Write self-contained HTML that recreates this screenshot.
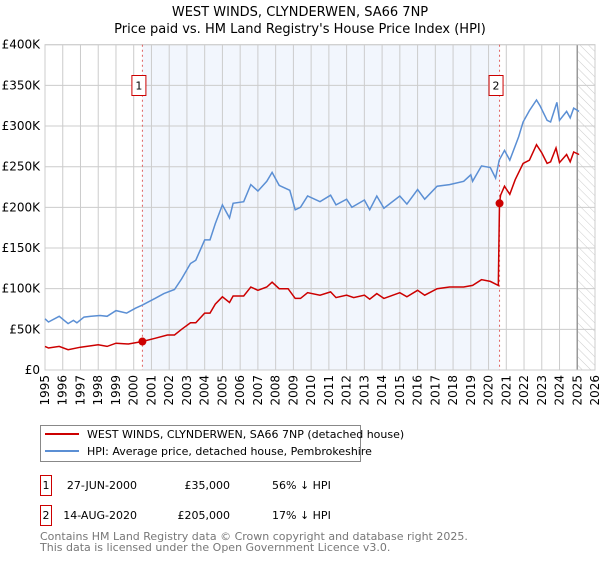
<!DOCTYPE html>
<html><head><meta charset="utf-8"><style>
body{margin:0;background:#fff;font-family:"Liberation Sans","DejaVu Sans",sans-serif}
svg text{font-family:"DejaVu Sans","Liberation Sans",sans-serif}
</style></head><body>
<svg id="chart" width="600" height="560" xmlns="http://www.w3.org/2000/svg">
<defs><pattern id="hatch" width="6" height="6" patternUnits="userSpaceOnUse" patternTransform="rotate(-45)"><line x1="0" y1="0" x2="0" y2="6" stroke="#ccc" stroke-width="1"/></pattern></defs>
<text x="300" y="16" text-anchor="middle" font-size="13">WEST WINDS, CLYNDERWEN, SA66 7NP</text>
<text x="300" y="33" text-anchor="middle" font-size="13">Price paid vs. HM Land Registry's House Price Index (HPI)</text>
<g id="plot"></g>
<g>
<rect x="40.5" y="425.5" width="320" height="36" fill="#fff" stroke="#888"/>
<line x1="45" y1="434" x2="79" y2="434" stroke="#cc0000" stroke-width="2"/>
<text x="87" y="438" font-size="11">WEST WINDS, CLYNDERWEN, SA66 7NP (detached house)</text>
<line x1="45" y1="451" x2="79" y2="451" stroke="#5b8fd4" stroke-width="2"/>
<text x="87" y="455" font-size="11">HPI: Average price, detached house, Pembrokeshire</text>
</g>
<g font-size="11">
<rect x="40.5" y="475.5" width="11" height="20" fill="#fff" stroke="#cc0000"/><text x="46" y="489" text-anchor="middle">1</text>
<text x="137" y="489" text-anchor="end">27-JUN-2000</text><text x="230" y="489" text-anchor="end">£35,000</text><text x="272" y="489">56% ↓ HPI</text>
<rect x="40.5" y="505.5" width="11" height="20" fill="#fff" stroke="#cc0000"/><text x="46" y="519" text-anchor="middle">2</text>
<text x="137" y="519" text-anchor="end">14-AUG-2020</text><text x="230" y="519" text-anchor="end">£205,000</text><text x="272" y="519">17% ↓ HPI</text>
</g>
<text x="40" y="540" font-size="11" fill="#777">Contains HM Land Registry data © Crown copyright and database right 2025.</text>
<text x="40" y="551" font-size="11" fill="#777">This data is licensed under the Open Government Licence v3.0.</text>
</svg>
<script>
const hpiYears=[1995.0,1995.2,1995.8,1996.3,1996.6,1996.8,1997.2,1997.6,1998.1,1998.5,1999.0,1999.6,2000.1,2000.5,2001.2,2001.7,2002.3,2002.7,2003.2,2003.5,2004.0,2004.3,2004.6,2005.0,2005.4,2005.6,2006.2,2006.6,2007.0,2007.5,2007.8,2008.2,2008.8,2009.1,2009.4,2009.8,2010.5,2011.1,2011.4,2012.0,2012.3,2013.0,2013.3,2013.7,2014.1,2015.0,2015.4,2016.0,2016.4,2017.1,2017.8,2018.6,2019.0,2019.1,2019.6,2020.1,2020.4,2020.6,2020.9,2021.2,2021.7,2021.95,2022.3,2022.7,2022.9,2023.3,2023.5,2023.85,2024.0,2024.4,2024.6,2024.8,2025.1];
const hpiValues=[63,59,66,57,61,58,65,66,67,66,73,70,76,80,88,94,99,112,131,135,160,160,180,203,187,205,207,228,220,232,243,227,221,197,200,214,207,215,203,210,200,209,197,214,199,214,204,222,210,226,228,232,240,232,251,249,236,258,270,258,287,305,319,332,325,307,305,329,307,318,310,322,318];
const redYears=[1995.0,1995.2,1995.8,1996.3,1997.0,1998.0,1998.5,1999.0,1999.7,2000.49,2001.2,2001.9,2002.3,2002.7,2003.2,2003.5,2004.0,2004.3,2004.6,2005.0,2005.4,2005.6,2006.2,2006.6,2007.0,2007.5,2007.8,2008.2,2008.7,2009.1,2009.4,2009.8,2010.5,2011.1,2011.4,2012.0,2012.4,2013.0,2013.3,2013.7,2014.1,2015.0,2015.4,2016.0,2016.4,2017.1,2017.8,2018.6,2019.1,2019.6,2020.1,2020.55,2020.62,2020.68,2020.9,2021.2,2021.5,2021.95,2022.3,2022.7,2023.0,2023.3,2023.5,2023.8,2024.0,2024.4,2024.6,2024.8,2025.1];
const redValues=[29,27,29,25,28,31,29,33,32,35,39,43,43,50,58,58,70,70,81,90,83,91,91,102,98,102,108,100,100,88,88,95,92,96,89,92,89,92,87,94,88,95,90,98,92,100,102,102,104,111,109,104,205,215,226,216,234,254,258,277,267,254,256,273,255,265,256,268,265];
const saleYears=[2000.49,2020.62];
const salePrices=[35,205];
const saleLabels=["1","2"];
const yTicks=[0,50,100,150,200,250,300,350,400];
const yTickLabels=["£0","£50K","£100K","£150K","£200K","£250K","£300K","£350K","£400K"];
const xTicks=[1995,1996,1997,1998,1999,2000,2001,2002,2003,2004,2005,2006,2007,2008,2009,2010,2011,2012,2013,2014,2015,2016,2017,2018,2019,2020,2021,2022,2023,2024,2025,2026];

const L=45,R=595,T=44.7,B=370,NS="http://www.w3.org/2000/svg";
const xs=y=>L+(y-1995)/(2026-1995)*(R-L);
const ys=v=>B-v/400*(B-T);
const g=document.getElementById('plot');
function mk(t,a,p){const e=document.createElementNS(NS,t);for(const k in a)e.setAttribute(k,a[k]);(p||g).appendChild(e);return e;}
const shade=mk('rect',{x:xs(saleYears[0]),y:T,width:xs(saleYears[1])-xs(saleYears[0]),height:B-T,fill:'#f2f6fd'});


const hatch=mk('rect',{x:xs(2025),y:T,width:R-xs(2025),height:B-T,fill:'url(#hatch)'});


yTicks.forEach((v,i)=>{
  const ln=mk('line',{x1:L,x2:R,y1:ys(v),y2:ys(v),stroke:'#ccc','stroke-width':1});
  
  
  const t=mk('text',{x:L-5,y:ys(v)+4,'text-anchor':'end','font-size':12});
  
  
  t.textContent=yTickLabels[i];
});
xTicks.forEach(y=>{
  const ln=mk('line',{x1:xs(y),x2:xs(y),y1:T,y2:B,stroke:'#ccc','stroke-width':1});
  
  
  const t=mk('text',{x:0,y:0,'text-anchor':'end','font-size':12,transform:`translate(${xs(y)+4},${B+5}) rotate(-90)`});
  
  
  t.textContent=y;
});
const nowLine=mk('line',{x1:xs(2025),x2:xs(2025),y1:T,y2:B,stroke:'#999','stroke-width':1.5});


const frame=mk('rect',{x:L,y:T,width:R-L,height:B-T,fill:'none',stroke:'#ccc'});


saleYears.forEach((y,i)=>{
  const ln=mk('line',{x1:xs(y),x2:xs(y),y1:T,y2:B,stroke:'#e06060','stroke-width':1,'stroke-dasharray':'2,3'});
  
  
});
const pts=(xa,va)=>xa.map((y,i)=>xs(y).toFixed(1)+','+ys(va[i]).toFixed(1)).join(' ');
const hl=mk('polyline',{points:pts(hpiYears,hpiValues),fill:'none',stroke:'#5b8fd4','stroke-width':1.5});


const rl=mk('polyline',{points:pts(redYears,redValues),fill:'none',stroke:'#cc0000','stroke-width':1.5});


saleYears.forEach((y,i)=>{
  const c=mk('circle',{cx:xs(y),cy:ys(salePrices[i]),r:4,fill:'#cc0000'});
  
  
  const bx=mk('rect',{x:xs(y)-10.5,y:75.5,width:14,height:20,fill:'#fff',stroke:'#cc0000'});
  
  
  const t=mk('text',{x:xs(y)-3.5,y:89.5,'text-anchor':'middle','font-size':11});
  
  
  t.textContent=saleLabels[i];
});
</script>
</body></html>
